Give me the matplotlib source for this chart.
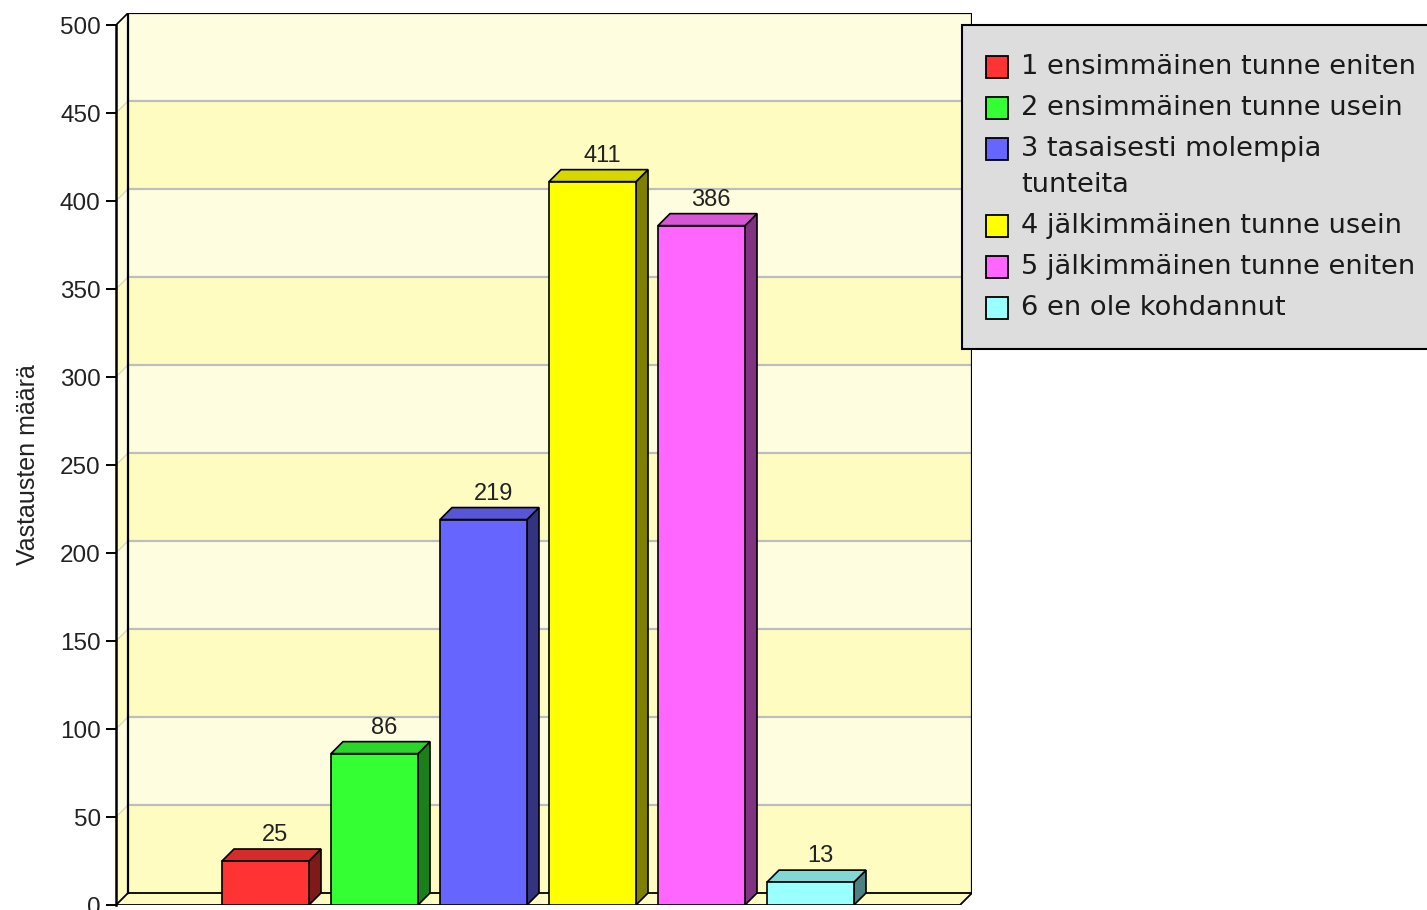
import matplotlib
matplotlib.use('Agg')
import matplotlib.pyplot as plt
from matplotlib.patches import Polygon, Rectangle
from matplotlib.colors import to_rgb

# Data
labels = ['1 ensimmäinen tunne eniten', '2 ensimmäinen tunne usein',
          '3 tasaisesti molempia\ntunteita', '4 jälkimmäinen tunne usein',
          '5 jälkimmäinen tunne eniten', '6 en ole kohdannut']
values = [25, 86, 219, 411, 386, 13]
colors = ['#FF3333', '#33FF33', '#6666FF', '#FFFF00', '#FF66FF', '#99FFFF']
yticks = list(range(0, 501, 50))
ylabel = 'Vastausten määrä'

W, H = 1427, 910
fig = plt.figure(figsize=(W / 100, H / 100), dpi=100)

def fx(px):
    return px / W

def fy(py):
    return 1 - py / H

# axes geometry (pixels) of the front plot area plus the depth offset
ax_left, ax_right, ax_bottom, ax_top = 116, 972, 905, 13
depth_px = 12
ypx_per_unit = 880 / 500
slot_px = 109
dy = depth_px / ypx_per_unit
dx = depth_px / slot_px
x0 = -(ax_right - ax_left - depth_px) / 2 / slot_px
x1 = x0 + (ax_right - ax_left) / slot_px
ymax = 500

ax = fig.add_axes([fx(ax_left), fy(ax_bottom), fx(ax_right - ax_left),
                   (ax_bottom - ax_top) / H])
ax.set_xlim(x0, x1)
ax.set_ylim(0, ymax + dy)
ax.patch.set_alpha(0)

band_light = '#FFFDE0'
band_yellow = '#FFFCC2'

# walls with alternating bands
for k in range(len(yticks) - 1):
    lo, hi = yticks[k], yticks[k + 1]
    col = band_yellow if k % 2 == 0 else band_light
    ax.add_patch(Polygon([(x0 + dx, lo + dy), (x1, lo + dy), (x1, hi + dy), (x0 + dx, hi + dy)],
                         closed=True, facecolor=col, edgecolor='none', zorder=1))
    ax.add_patch(Polygon([(x0, lo), (x0 + dx, lo + dy), (x0 + dx, hi + dy), (x0, hi)],
                         closed=True, facecolor=col, edgecolor='none', zorder=1))

# grid lines
for t in yticks[1:-1]:
    ax.plot([x0 + dx, x1], [t + dy, t + dy], color='#BDBDBD', lw=1.6, zorder=2)
    ax.plot([x0, x0 + dx], [t, t + dy], color='#D8D8C8', lw=1.0, zorder=2)

# floor
ax.add_patch(Polygon([(x0, 0), (x1 - dx, 0), (x1, dy), (x0 + dx, dy)], closed=True,
                     facecolor=band_yellow, edgecolor='black', lw=1.3, zorder=3))

# wall borders
ax.plot([x0 + dx, x0 + dx, x1, x1], [dy, ymax + dy, ymax + dy, dy], color='black', lw=1.6, zorder=3)
ax.plot([x0, x0 + dx], [ymax, ymax + dy], color='black', lw=1.2, zorder=3)

# 3D bars
bar_w = 87 / slot_px
n = len(values)
for i, (v, c) in enumerate(zip(values, colors)):
    cx = i - (n - 1) / 2
    l, r = cx - bar_w / 2, cx + bar_w / 2
    rgb = to_rgb(c)
    top_c = tuple(ch * 0.84 for ch in rgb)
    side_c = tuple(ch * 0.5 for ch in rgb)
    ax.add_patch(Polygon([(r, 0), (r + dx, dy), (r + dx, v + dy), (r, v)], closed=True,
                         facecolor=side_c, edgecolor='black', lw=1.2, zorder=5))
    ax.add_patch(Polygon([(l, v), (r, v), (r + dx, v + dy), (l + dx, v + dy)], closed=True,
                         facecolor=top_c, edgecolor='black', lw=1.2, zorder=5))
    ax.add_patch(Rectangle((l, 0), bar_w, v, facecolor=c, edgecolor='black', lw=1.2, zorder=6))
    ax.text(cx + dx * 0.8, v + dy + 1.5, str(v), ha='center', va='bottom',
            fontsize=17, family='Liberation Sans', color='#222222', zorder=7)

# front axis
for s in ['top', 'right', 'bottom']:
    ax.spines[s].set_visible(False)
ax.spines['left'].set_bounds(0, ymax)
ax.spines['left'].set_linewidth(1.8)
ax.set_xticks([])
ax.set_yticks(yticks)
ax.set_yticklabels([str(t) for t in yticks], family='Liberation Sans', fontsize=17.5, color='#222222')
ax.tick_params(axis='y', direction='out', length=7, width=1.4, pad=4)

fig.text(fx(28), fy(465), ylabel, rotation=90, ha='center', va='center',
         fontsize=18, family='Liberation Sans', color='#222222')

# legend box
lx, ltop, lbot = 962, 25, 349
fig.patches.append(Rectangle((fx(lx), fy(lbot)), fx(W + 20 - lx), (lbot - ltop) / H,
                             transform=fig.transFigure, facecolor='#DDDDDD',
                             edgecolor='black', lw=1.5, zorder=1))
row_y = 67
for lab, c in zip(labels, colors):
    lines = lab.split('\n')
    fig.patches.append(Rectangle((fx(986), fy(row_y + 11)), fx(22), 22 / H,
                                 transform=fig.transFigure, facecolor=c,
                                 edgecolor='black', lw=1.3, zorder=2))
    for j, line in enumerate(lines):
        fig.text(fx(1021), fy(row_y + 36 * j), line, ha='left', va='center',
                 fontsize=19.6, family='DejaVu Sans', color='#1a1a1a', zorder=3)
    row_y += 41 + 36 * (len(lines) - 1)

fig.savefig('out.png', dpi=100)
